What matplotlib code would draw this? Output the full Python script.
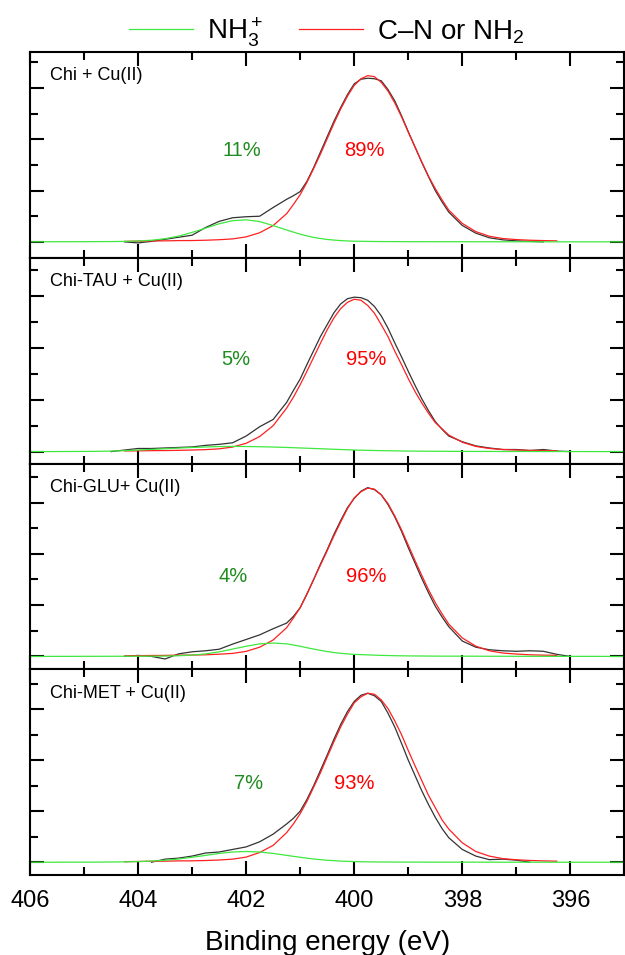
import numpy as np
import matplotlib
matplotlib.use("Agg")
import matplotlib.pyplot as plt
from matplotlib.ticker import MultipleLocator

plt.rcParams['font.family'] = ['Liberation Sans', 'DejaVu Sans']
plt.rcParams['mathtext.fontset'] = 'custom'
plt.rcParams['mathtext.rm'] = 'Liberation Sans'
plt.rcParams['mathtext.it'] = 'Liberation Sans:italic'

nan = np.nan

# binding energy grid (eV), finer around the main peak
energy = [406.0, 405.75, 405.5, 405.25,
          405.0, 404.75, 404.5, 404.25,
          404.0, 403.75, 403.5, 403.25,
          403.0, 402.75, 402.5, 402.25,
          402.0, 401.75, 401.5, 401.25,
          401.125, 401.0, 400.875, 400.75, 400.625, 400.5, 400.375, 400.25,
          400.125, 400.0, 399.875, 399.75, 399.625, 399.5, 399.375, 399.25,
          399.125, 399.0, 398.875, 398.75, 398.625, 398.5, 398.375, 398.25,
          398.0, 397.75, 397.5, 397.25,
          397.0, 396.75, 396.5, 396.25,
          396.0, 395.75, 395.5, 395.25,
          395.0]

## intensities (one major y tick = 1 unit)
# Chi + Cu(II)
nh3_1 = [0.002, 0.002, 0.003, 0.003,
         0.004, 0.005, 0.006, 0.009,
         0.017, 0.032, 0.062, 0.112,
         0.185, 0.267, 0.353, 0.413,
         0.430, 0.396, 0.318, 0.232,
         0.190, 0.150, 0.117, 0.086, 0.066, 0.047, 0.035, 0.025,
         0.018, 0.013, 0.011, 0.009, 0.0075, 0.006, 0.0055, 0.005,
         0.0045, 0.004, 0.004, 0.004, 0.0035, 0.003, 0.003, 0.003,
         0.003, 0.002, 0.002, 0.002,
         0.002, 0.002, 0.001, 0.001,
         0.001, 0.001, 0.001, 0.001,
         0.001]
cn_1 = [nan, nan, nan, nan,
        nan, nan, nan, 0.010,
        0.015, 0.018, 0.020, 0.025,
        0.026, 0.032, 0.042, 0.058,
        0.097, 0.178, 0.318, 0.550,
        0.73, 0.92, 1.16, 1.43, 1.71, 2.01, 2.31, 2.59,
        2.84, 3.05, 3.18, 3.24, 3.22, 3.11, 2.94, 2.71,
        2.44, 2.14, 1.85, 1.56, 1.28, 1.04, 0.82, 0.62,
        0.360, 0.200, 0.110, 0.065,
        0.045, 0.032, 0.025, 0.020,
        nan, nan, nan, nan,
        nan]
exp_1 = [nan, nan, nan, nan,
         nan, nan, nan, 0.0,
         -0.02, 0.01, 0.05, 0.09,
         0.13, 0.28, 0.40, 0.47,
         0.49, 0.50, 0.67, 0.83,
         0.90, 0.98, 1.18, 1.45, 1.75, 2.05, 2.35, 2.62,
         2.87, 3.08, 3.17, 3.19, 3.18, 3.14, 2.97, 2.75,
         2.46, 2.15, 1.85, 1.55, 1.27, 1.00, 0.78, 0.58,
         0.32, 0.17, 0.08, 0.04,
         0.02, 0.01, 0.0, nan,
         nan, nan, nan, nan,
         nan]

# Chi-TAU + Cu(II)
nh3_2 = [0.0, 0.0, 0.001, 0.002,
         0.003, 0.005, 0.010, 0.018,
         0.030, 0.042, 0.055, 0.068,
         0.080, 0.089, 0.097, 0.100,
         0.098, 0.094, 0.088, 0.080,
         0.075, 0.070, 0.065, 0.060, 0.055, 0.050, 0.045, 0.040,
         0.035, 0.030, 0.027, 0.024, 0.021, 0.018, 0.016, 0.014,
         0.012, 0.010, 0.009, 0.008, 0.007, 0.006, 0.0055, 0.005,
         0.004, 0.003, 0.003, 0.002,
         0.002, 0.002, 0.001, 0.001,
         0.001, 0.001, 0.0, 0.0,
         0.0]
cn_2 = [nan, nan, nan, nan,
        nan, nan, nan, 0.012,
        0.015, 0.018, 0.020, 0.024,
        0.030, 0.038, 0.053, 0.088,
        0.160, 0.290, 0.500, 0.840,
        1.05, 1.29, 1.55, 1.82, 2.09, 2.35, 2.58, 2.76,
        2.88, 2.94, 2.92, 2.82, 2.67, 2.45, 2.22, 1.94,
        1.68, 1.41, 1.16, 0.94, 0.74, 0.56, 0.44, 0.32,
        0.180, 0.100, 0.060, 0.040,
        0.030, 0.024, 0.020, 0.016,
        nan, nan, nan, nan,
        nan]
exp_2 = [nan, nan, nan, nan,
         nan, nan, 0.0, 0.03,
         0.06, 0.06, 0.07, 0.08,
         0.09, 0.12, 0.14, 0.17,
         0.30, 0.48, 0.62, 0.95,
         1.18, 1.40, 1.68, 1.95, 2.22, 2.45, 2.68, 2.85,
         2.95, 2.98, 2.97, 2.92, 2.80, 2.62, 2.38, 2.10,
         1.83, 1.55, 1.28, 1.02, 0.79, 0.58, 0.43, 0.30,
         0.19, 0.11, 0.07, 0.04,
         0.04, 0.02, 0.04, 0.01,
         0.0, nan, nan, nan,
         nan]

# Chi-GLU + Cu(II)
nh3_3 = [0.0, 0.0, 0.001, 0.001,
         0.002, 0.002, 0.003, 0.003,
         0.004, 0.005, 0.007, 0.013,
         0.026, 0.049, 0.088, 0.143,
         0.198, 0.245, 0.260, 0.245,
         0.222, 0.198, 0.169, 0.143, 0.118, 0.095, 0.076, 0.060,
         0.049, 0.040, 0.035, 0.030, 0.025, 0.020, 0.017, 0.014,
         0.012, 0.010, 0.009, 0.008, 0.0065, 0.006, 0.005, 0.005,
         0.005, 0.004, 0.003, 0.003,
         0.002, 0.002, 0.002, 0.001,
         0.001, 0.001, 0.001, 0.0,
         0.0]
cn_3 = [nan, nan, nan, nan,
        nan, nan, nan, 0.010,
        0.015, 0.018, 0.020, 0.025,
        0.026, 0.032, 0.043, 0.059,
        0.098, 0.180, 0.320, 0.560,
        0.75, 0.95, 1.21, 1.50, 1.78, 2.06, 2.35, 2.62,
        2.88, 3.09, 3.21, 3.28, 3.26, 3.15, 2.98, 2.74,
        2.47, 2.17, 1.87, 1.58, 1.30, 1.05, 0.83, 0.63,
        0.360, 0.200, 0.110, 0.066,
        0.046, 0.032, 0.025, 0.020,
        nan, nan, nan, nan,
        nan]
exp_3 = [nan, nan, nan, nan,
         nan, nan, nan, 0.0,
         0.02, 0.0, -0.05, 0.05,
         0.09, 0.11, 0.14, 0.24,
         0.33, 0.42, 0.54, 0.65,
         0.78, 0.95, 1.22, 1.50, 1.80, 2.08, 2.38, 2.65,
         2.90, 3.08, 3.22, 3.29, 3.25, 3.15, 2.96, 2.72,
         2.44, 2.12, 1.82, 1.52, 1.24, 0.98, 0.77, 0.58,
         0.30, 0.18, 0.13, 0.11,
         0.10, 0.11, 0.10, 0.04,
         0.0, nan, nan, nan,
         nan]

# Chi-MET + Cu(II)
nh3_4 = [0.0, 0.0, 0.0, 0.001,
         0.001, 0.002, 0.004, 0.007,
         0.012, 0.022, 0.038, 0.063,
         0.097, 0.134, 0.172, 0.200,
         0.210, 0.200, 0.172, 0.134,
         0.115, 0.097, 0.079, 0.063, 0.050, 0.038, 0.030, 0.022,
         0.017, 0.012, 0.009, 0.007, 0.0055, 0.004, 0.0035, 0.003,
         0.0025, 0.002, 0.002, 0.002, 0.0015, 0.001, 0.001, 0.001,
         0.001, 0.001, 0.001, 0.0,
         0.0, 0.0, 0.0, 0.0,
         0.0, 0.0, 0.0, 0.0,
         0.0]
cn_4 = [nan, nan, nan, nan,
        nan, nan, nan, 0.010,
        0.015, 0.018, 0.020, 0.026,
        0.027, 0.033, 0.043, 0.060,
        0.100, 0.190, 0.330, 0.580,
        0.75, 0.95, 1.19, 1.47, 1.75, 2.06, 2.36, 2.65,
        2.90, 3.12, 3.24, 3.31, 3.29, 3.18, 3.01, 2.77,
        2.50, 2.19, 1.89, 1.60, 1.31, 1.07, 0.83, 0.65,
        0.380, 0.210, 0.120, 0.070,
        0.048, 0.034, 0.026, 0.020,
        nan, nan, nan, nan,
        nan]
exp_4 = [nan, nan, nan, nan,
         nan, nan, nan, nan,
         nan, 0.0, 0.06, 0.08,
         0.12, 0.18, 0.20, 0.25,
         0.30, 0.40, 0.55, 0.75,
         0.86, 1.00, 1.23, 1.50, 1.80, 2.10, 2.41, 2.70,
         2.95, 3.15, 3.27, 3.31, 3.26, 3.15, 2.92, 2.65,
         2.33, 2.00, 1.70, 1.40, 1.13, 0.88, 0.66, 0.48,
         0.25, 0.12, 0.05, 0.06,
         0.04, 0.0, nan, nan,
         nan, nan, nan, nan,
         nan]

samples = ['Chi + Cu(II)', 'Chi-TAU + Cu(II)', 'Chi-GLU+ Cu(II)', 'Chi-MET + Cu(II)']
nh3_pct = ['11%', '5%', '4%', '7%']
cn_pct = ['89%', '95%', '96%', '93%']
nh3_all = [nh3_1, nh3_2, nh3_3, nh3_4]
cn_all = [cn_1, cn_2, cn_3, cn_4]
exp_all = [exp_1, exp_2, exp_3, exp_4]

# label positions (energy, height)
nh3_pos = [(402.08, 1.79), (402.2, 1.77), (402.24, 1.56), (401.95, 1.54)]
cn_pos = [(399.82, 1.79), (399.78, 1.77), (399.78, 1.56), (400.0, 1.54)]
ylims = [(-0.31, 3.70), (-0.23, 3.74), (-0.25, 3.76), (-0.25, 3.78)]

fig, axes = plt.subplots(4, 1, figsize=(6.25, 9.55), dpi=100, sharex=True)
fig.subplots_adjust(left=0.048, right=0.999, top=0.9455, bottom=0.0838, hspace=0)

for i, ax in enumerate(axes):
    ax.plot(energy, exp_all[i], color='#333333', lw=0.9)
    l_cn, = ax.plot(energy, cn_all[i], color='#ff2020', lw=0.9)
    l_nh, = ax.plot(energy, nh3_all[i], color='#3ee83e', lw=0.9)
    ax.set_xlim(406, 395)
    ax.set_ylim(*ylims[i])
    ax.xaxis.set_major_locator(MultipleLocator(2))
    ax.xaxis.set_minor_locator(MultipleLocator(1))
    ax.yaxis.set_major_locator(MultipleLocator(1))
    ax.yaxis.set_minor_locator(MultipleLocator(0.5))
    ax.tick_params(which='both', direction='in', top=True, right=True, width=1.5)
    ax.tick_params(which='major', length=10)
    ax.tick_params(which='minor', length=5.5)
    ax.tick_params(axis='y', labelleft=False)
    for s in ax.spines.values():
        s.set_linewidth(1.5)
    ax.text(0.033, 0.925, samples[i], transform=ax.transAxes, fontsize=13, va='top', ha='left')
    ax.text(nh3_pos[i][0], nh3_pos[i][1], nh3_pct[i], color='#1f8c1f', fontsize=14.5, ha='center', va='center')
    ax.text(cn_pos[i][0], cn_pos[i][1], cn_pct[i], color='#ff0000', fontsize=14.5, ha='center', va='center')

axes[-1].tick_params(axis='x', labelsize=17, pad=11)
axes[-1].set_xlabel('Binding energy (eV)', fontsize=20, labelpad=13)

fig.legend([l_nh, l_cn], [r'NH$_3^+$', 'C\u2013N or NH$_2$'],
           loc='center', bbox_to_anchor=(0.523, 1 - 32 / 955), ncol=2, frameon=False,
           fontsize=20, handlelength=2.3, columnspacing=1.3, handletextpad=0.5)

fig.savefig('out.png', dpi=100)
